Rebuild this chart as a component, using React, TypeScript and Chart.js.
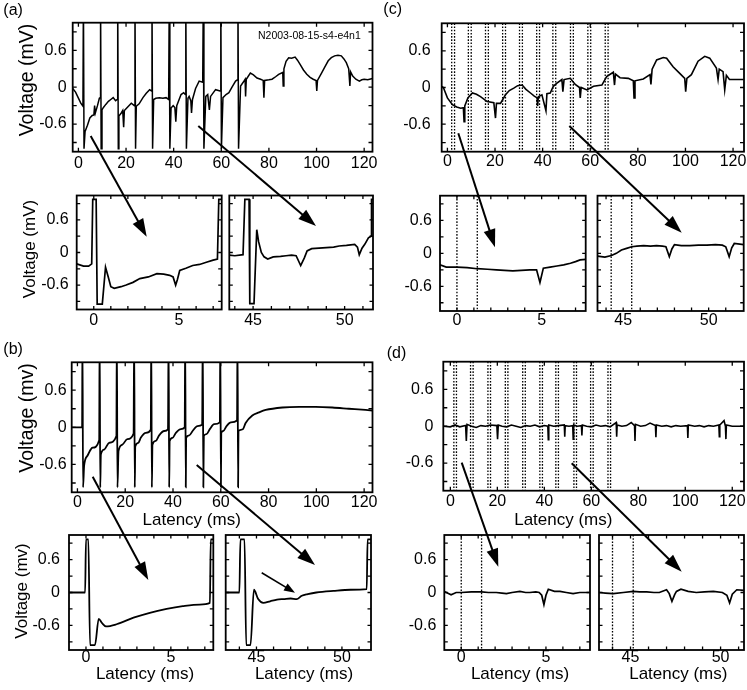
import React, { useEffect, useRef } from "react";
import { Chart, registerables } from "chart.js";
Chart.register(...registerables);

const FONT = "'Liberation Sans', Arial, Helvetica, sans-serif";

// ---------------- tick values ----------------
const MAIN_X_TICKS = [0, 20, 40, 60, 80, 100, 120];
const Y_TICK_LABELS = [-0.6, 0, 0.6];
const Y_TICK_MARKS = [-0.9, -0.6, -0.3, 0, 0.3, 0.6, 0.9];
const INSET_L_LABELS = [0, 5];
const INSET_L_MARKS = [0, 1, 2, 3, 4, 5, 6, 7];
const INSET_R_LABELS = [45, 50];
const INSET_R_MARKS = [44, 45, 46, 47, 48, 49, 50, 51];

// ---------------- series (latency ms, voltage mV) ----------------
const A_MAIN: [number, number][] = [
  [-2.4, -0.02], [-1.2, -0.08], [-0.1, -0.17], [1.0, -0.26], [1.9, -0.31],
  [2.1, 1.5], [2.35, -1.0], [2.8, -0.72], [3.8, -0.62], [4.8, -0.5], [5.8, -0.46], [6.5, -0.45], [6.8, -0.3], [7.1, -0.42], [8.0, -0.3], [8.8, -0.18], [9.1, -0.17],
  [9.3, 1.5], [9.55, -1.0], [9.9, -0.37], [10.5, -0.33], [11.5, -0.28], [12.6, -0.23], [13.6, -0.2], [14.6, -0.17], [15.6, -0.22], [16.3, -0.2],
  [16.5, 1.5], [16.75, -1.0], [17.0, -0.47], [18.0, -0.42], [18.6, -0.38], [19.0, -0.65], [19.3, -0.38], [20.5, -0.33], [22.2, -0.26], [23.5, -0.3],
  [23.75, 1.5], [24.0, -1.0], [24.3, -0.31], [25.5, -0.27], [27.1, -0.17], [28.5, -0.1], [29.9, -0.04], [30.7, -0.06],
  [30.9, 1.5], [31.15, -1.0], [31.6, -0.2], [32.5, -0.18], [34.0, -0.17], [35.5, -0.18], [36.8, -0.17], [37.9, -0.2],
  [38.15, 1.5], [38.4, -1.0], [38.9, -0.34], [39.8, -0.3], [40.5, -0.33], [40.9, -0.56], [41.3, -0.3], [43.1, -0.12], [44.2, -0.09], [44.9, -0.12],
  [45.1, 1.5], [45.35, -1.0], [46.0, -0.18], [46.5, -0.15], [47.2, -0.22], [47.5, -0.42], [47.9, -0.2], [49.2, -0.02], [50.7, 0.1], [52.2, 0.08],
  [52.45, 1.5], [52.7, -1.0], [53.5, -0.15], [54.3, -0.12], [55.0, -0.37], [55.5, -0.15], [57.6, -0.04], [59.5, -0.06],
  [59.8, 1.5], [60.05, -1.0], [60.7, -0.17], [62.0, -0.12], [63.2, -0.09], [64.5, 0.0], [66.0, 0.1], [66.8, 0.12],
  [67.0, 1.5], [67.25, -1.0], [68.1, 0.02], [69.2, 0.08], [70.0, 0.13], [70.2, -0.15], [70.5, 0.13], [72.2, 0.23], [73.5, 0.2], [75.0, 0.15], [76.5, 0.13], [77.6, 0.11], [77.9, -0.17], [78.2, 0.11], [80.0, 0.12], [81.3, 0.13], [82.8, 0.17], [84.1, 0.21], [85.8, 0.24], [86.0, 0.02], [86.3, 0.3], [87.2, 0.42], [88.3, 0.48], [89.5, 0.47], [91.0, 0.49], [92.0, 0.44], [93.1, 0.37], [94.5, 0.28], [95.9, 0.21], [97.3, 0.16], [98.6, 0.13], [99.8, 0.11], [100.1, -0.06], [100.4, 0.11], [102.1, 0.23], [103.5, 0.33], [104.9, 0.43], [106.2, 0.48], [107.6, 0.51], [109.0, 0.52], [110.4, 0.51], [111.5, 0.46], [112.5, 0.4], [113.5, 0.3], [114.0, 0.02], [114.3, 0.25], [115.2, 0.18], [116.5, 0.13], [118.0, 0.1], [119.0, 0.12], [120.0, 0.13], [121.5, 0.12], [123.5, 0.14],
];

const A_INS_L: [number, number][] = [
  [-1, -0.21], [-0.6, -0.25], [-0.3, -0.25], [-0.12, -0.21], [-0.06, 0.98], [0.14, 0.98], [0.2, -0.95], [0.5, -0.95], [0.69, -0.27], [0.85, -0.45], [1.0, -0.63], [1.2, -0.66], [1.6, -0.63], [1.9, -0.6], [2.3, -0.55], [2.7, -0.48], [3.2, -0.45], [3.7, -0.39], [4.1, -0.4], [4.45, -0.42], [4.65, -0.45], [4.8, -0.6], [4.9, -0.5], [5.04, -0.33], [5.4, -0.29], [5.8, -0.24], [6.2, -0.22], [6.6, -0.18], [7.0, -0.14], [7.25, -0.12], [7.33, 0.98], [7.6, 0.98],
];

const A_INS_R: [number, number][] = [
  [43.7, -0.05], [44.0, -0.06], [44.45, -0.04], [44.55, 0.98], [44.78, 0.98], [44.82, -0.94], [45.05, -0.94], [45.2, 0.42], [45.3, 0.2], [45.45, 0.0], [45.6, -0.08], [45.8, -0.12], [46.1, -0.08], [46.5, -0.07], [46.8, -0.06], [47.1, -0.05], [47.35, -0.06], [47.6, -0.24], [47.8, -0.1], [47.95, 0.03], [48.2, 0.07], [48.6, 0.08], [49.0, 0.09], [49.4, 0.1], [49.7, 0.12], [50.1, 0.13], [50.55, 0.15], [50.7, 0.1], [50.8, -0.04], [50.95, 0.08], [51.1, 0.15], [51.3, 0.27], [51.45, 0.3], [51.47, 0.98], [51.6, 0.98],
];

const B_MAIN: [number, number][] = [
  [-2.4, 0], [1.95, 0], [2.1, 1.5], [2.35, -0.97], [2.8, -0.62], [4.2, -0.46], [6.3, -0.33], [9.1, -0.21],
  [9.3, 1.5], [9.55, -0.97], [9.8, -0.44], [11.2, -0.36], [13.3, -0.25], [16.3, -0.14],
  [16.5, 1.5], [16.75, -0.97], [17.2, -0.38], [18.8, -0.28], [20.9, -0.19], [23.5, -0.1],
  [23.75, 1.5], [24.0, -0.97], [24.2, -0.31], [25.5, -0.25], [26.5, -0.17], [28.6, -0.09], [30.7, -0.04],
  [30.9, 1.5], [31.15, -0.97], [31.4, -0.28], [32.8, -0.22], [34.2, -0.13], [36.3, -0.06], [37.9, -0.03],
  [38.15, 1.5], [38.4, -0.97], [38.6, -0.22], [39.8, -0.17], [41.2, -0.09], [43.3, -0.03], [44.9, 0.0],
  [45.1, 1.5], [45.35, -0.97], [45.5, -0.17], [46.8, -0.13], [48.2, -0.06], [50.2, 0.02], [52.2, 0.04],
  [52.45, 1.5], [52.7, -0.97], [52.9, -0.14], [54.0, -0.11], [55.4, -0.03], [57.2, 0.05], [59.6, 0.08],
  [59.8, 1.5], [60.05, -0.97], [60.2, -0.09], [61.0, -0.06], [62.4, 0.02], [64.2, 0.08], [66.8, 0.11],
  [67.0, 1.5], [67.25, -0.97], [67.4, -0.06], [68.4, -0.04], [69.3, -0.03], [70.4, 0.07], [73.2, 0.19], [76.0, 0.24], [78.8, 0.28], [85.8, 0.32], [92.8, 0.33], [99.7, 0.33], [106.7, 0.32], [113.6, 0.3], [120.6, 0.28], [123.5, 0.27],
];

const B_INS_L: [number, number][] = [
  [-1, 0], [-0.05, 0], [0, 0.97], [0.14, 0.97], [0.24, -0.96], [0.53, -0.96], [0.75, -0.48], [0.95, -0.56], [1.18, -0.62], [1.8, -0.58], [2.8, -0.46], [3.76, -0.37], [4.75, -0.3], [5.7, -0.25], [6.7, -0.22], [7.3, -0.19], [7.35, 0.97], [7.6, 0.97],
];

const B_INS_R: [number, number][] = [
  [43.2, 0], [44.0, 0], [44.06, 0.97], [44.3, 0.97], [44.4, -0.96], [44.65, -0.96], [44.85, 0.05], [45.1, -0.12], [45.4, -0.19], [45.8, -0.16], [46.2, -0.13], [46.6, -0.12], [47.0, -0.11], [47.35, -0.12], [47.65, -0.06], [48.0, -0.03], [48.5, 0.0], [49.5, 0.03], [50.5, 0.05], [51.45, 0.06], [51.5, 0.97], [51.7, 0.97],
];

const C_MAIN: [number, number][] = [
  [-2.4, 0.02], [-1.7, 0.0], [0, -0.17], [2.1, -0.28], [3.9, -0.32], [5.6, -0.34], [6.7, -0.33], [7.0, -0.56], [7.3, -0.3], [8.6, -0.17], [10.5, -0.09], [12.2, -0.11], [13.9, -0.15], [16.7, -0.23], [19.5, -0.25], [20.2, -0.5], [20.6, -0.26], [22.3, -0.26], [24.4, -0.12], [26.0, -0.05], [27.9, -0.01], [29.5, 0.03], [31.4, 0.04], [33.0, -0.03], [34.9, -0.09], [36.5, -0.14], [37.7, -0.17], [37.9, -0.3], [38.2, -0.15], [39.7, -0.12], [41.4, -0.38], [41.8, -0.1], [43.2, -0.09], [44.5, 0.02], [46.0, 0.07], [48.1, 0.13], [48.5, -0.07], [49.0, 0.13], [51.6, 0.15], [53.7, 0.05], [55.5, 0.0], [55.8, -0.17], [56.2, 0.0], [58.6, -0.04], [61.4, 0.02], [64.9, 0.04], [66.9, 0.18], [69.7, 0.25], [70.2, 0.04], [70.6, 0.22], [72.5, 0.16], [76.0, 0.15], [78.1, 0.11], [78.4, -0.17], [78.8, 0.11], [82.3, 0.14], [85.1, 0.21], [85.5, 0.05], [86.0, 0.3], [87.9, 0.45], [90.7, 0.49], [92.1, 0.48], [94.8, 0.34], [97.6, 0.23], [99.7, 0.15], [100.1, -0.07], [100.6, 0.15], [102.5, 0.21], [105.3, 0.43], [108.1, 0.51], [110.2, 0.48], [113.0, 0.32], [113.7, 0.13], [114.2, 0.3], [115.8, 0.26], [116.5, -0.04], [117.2, 0.2], [118.5, 0.13], [124.5, 0.13],
];

const C_INS_L: [number, number][] = [
  [-1, -0.21], [-0.63, -0.25], [0, -0.25], [0.6, -0.26], [1.2, -0.28], [1.8, -0.29], [2.33, -0.3], [2.8, -0.31], [3.3, -0.32], [3.8, -0.31], [4.3, -0.3], [4.7, -0.3], [4.9, -0.53], [5.1, -0.27], [5.5, -0.25], [5.9, -0.23], [6.3, -0.21], [6.7, -0.18], [7.0, -0.15], [7.27, -0.12], [7.6, -0.11],
];

const C_INS_R: [number, number][] = [
  [43.5, -0.05], [43.93, -0.07], [44.32, -0.04], [44.6, 0.0], [44.9, 0.06], [45.2, 0.09], [45.5, 0.12], [45.8, 0.13], [46.2, 0.14], [46.6, 0.13], [46.95, 0.14], [47.3, 0.13], [47.5, 0.12], [47.7, -0.06], [47.85, 0.08], [48.0, 0.16], [48.4, 0.14], [48.9, 0.14], [49.4, 0.15], [49.9, 0.15], [50.4, 0.16], [50.8, 0.15], [51.0, 0.12], [51.2, -0.06], [51.35, 0.1], [51.5, 0.18], [52.05, 0.16],
];

const D_MAIN: [number, number][] = [
  [-3, 0.0], [0, -0.01], [2, 0.02], [4, -0.01], [6.5, 0.01], [6.8, -0.24], [7.1, 0.03], [9, 0], [11, -0.02], [13, 0.01], [15, 0.0], [17, 0.02], [19.8, 0.01], [20.1, -0.21], [20.4, 0.02], [22, 0], [24, -0.01], [26, 0.02], [28, 0], [30, -0.02], [32, 0.01], [34, 0], [36, 0.02], [38, -0.01], [40, 0.01], [41.5, 0.0], [41.7, -0.22], [41.9, 0.02], [44, 0], [46, 0.01], [48.5, 0.02], [48.7, -0.17], [48.9, 0.01], [50.5, 0], [52.1, 0.01], [52.3, -0.21], [52.5, 0.02], [54, 0], [55.8, 0.01], [56, -0.15], [56.2, 0.02], [58, 0], [60, -0.01], [62, 0.02], [64, 0], [66, 0.01], [68, -0.01], [70.6, 0.06], [70.8, -0.17], [71, 0.02], [73, 0], [75, 0.01], [77, 0.06], [78.4, 0.01], [78.6, -0.24], [78.8, 0.03], [81, 0], [83, 0.01], [85, 0.05], [87.3, 0.01], [87.5, -0.18], [87.7, 0.02], [90, 0], [92, 0.01], [94, -0.01], [96, 0.01], [98, 0], [100.9, 0.01], [101.1, -0.19], [101.3, 0.02], [104, 0], [106, 0.01], [108, -0.01], [110, 0.01], [112, 0], [114.3, 0.02], [114.5, -0.17], [114.7, 0.02], [116.5, 0.09], [117.1, 0.0], [117.3, -0.21], [117.5, 0.02], [120, 0], [125, 0.0],
];

const D_INS_L: [number, number][] = [
  [-1, 0.02], [-0.6, -0.04], [-0.3, 0.0], [0, 0.0], [0.6, 0.01], [1.2, 0.01], [1.6, 0.0], [2.07, 0.0], [2.4, -0.01], [2.67, -0.02], [3.0, 0.0], [3.46, 0.02], [3.8, 0.0], [4.05, 0.0], [4.4, 0.01], [4.6, 0.0], [4.75, -0.05], [4.88, -0.22], [5.0, -0.05], [5.14, 0.06], [5.5, 0.02], [5.83, 0.02], [6.2, 0.0], [6.6, -0.02], [7.0, 0.0], [7.3, 0.0], [7.6, 0.0],
];

const D_INS_R: [number, number][] = [
  [43.25, 0.0], [43.6, -0.01], [44.04, -0.02], [44.6, 0.0], [45.15, 0.02], [45.5, 0.01], [45.9, 0.01], [46.3, 0.0], [46.6, 0.0], [47.0, 0.05], [47.15, -0.02], [47.3, -0.16], [47.45, -0.04], [47.55, 0.02], [47.8, 0.06], [48.2, 0.02], [48.65, 0.0], [49.1, 0.01], [49.6, 0.02], [50.1, 0.0], [50.35, -0.05], [50.5, -0.19], [50.65, -0.03], [50.9, 0.05], [51.3, 0.04],
];

// spike-window markers (dotted lines), ms
const C_MAIN_MARKS = [1.8, 3.0, 8.8, 10.0, 16.0, 17.2, 23.2, 24.4, 30.3, 31.5, 37.5, 38.7, 44.3, 45.5, 51.7, 52.9, 59.0, 60.2, 66.3, 67.5];
const D_MAIN_MARKS = [1.5, 2.6, 8.6, 9.7, 16.0, 17.1, 23.4, 24.5, 30.8, 31.9, 38.1, 39.2, 44.9, 46.0, 52.6, 53.7, 59.7, 60.8, 67.1, 68.2];
const INS_L_MARKS = [0, 1.2];
const C_INS_R_MARKS = [44.3, 45.5];
const D_INS_R_MARKS = [44.0, 45.15];

// ---------------- layout ----------------
type Box = { x: number; y: number; w: number; h: number };
type Area = { l: number; t: number; r: number; b: number };
type PanelCfg = {
  box: Box; area: Area; xMin: number; xMax: number;
  xLabels: number[]; xMarks: number[]; yLabels: boolean;
  yPad: number; xPad: number; data: [number, number][];
  marks?: number[]; lw: number; smooth?: boolean; tick: number;
};

const Y_MIN = -1.05, Y_MAX = 1.05;

const PANELS: PanelCfg[] = [
  { box: { x: 0, y: 0, w: 380, h: 176 }, area: { l: 72.7, t: 22.7, r: 372.5, b: 151.7 }, xMin: -2.4, xMax: 123.5, xLabels: MAIN_X_TICKS, xMarks: MAIN_X_TICKS, yLabels: true, yPad: 6, xPad: 2, data: A_MAIN, lw: 1.5, tick: 4 },
  { box: { x: 0, y: 180, w: 224, h: 150 }, area: { l: 76.7, t: 195.5, r: 221.7, b: 309.5 }, xMin: -1, xMax: 7.5, xLabels: INSET_L_LABELS, xMarks: INSET_L_MARKS, yLabels: true, yPad: 8, xPad: 1, data: A_INS_L, lw: 1.7, tick: 3.5 },
  { box: { x: 224, y: 180, w: 156, h: 150 }, area: { l: 229.3, t: 195.5, r: 373, b: 309.5 }, xMin: 43.7, xMax: 51.55, xLabels: INSET_R_LABELS, xMarks: INSET_R_MARKS, yLabels: false, yPad: 8, xPad: 1, data: A_INS_R, lw: 1.7, tick: 3.5 },
  { box: { x: 0, y: 335, w: 380, h: 180 }, area: { l: 71.7, t: 362.3, r: 372.5, b: 492.3 }, xMin: -2.4, xMax: 123.5, xLabels: MAIN_X_TICKS, xMarks: MAIN_X_TICKS, yLabels: true, yPad: 5, xPad: 1, data: B_MAIN, lw: 1.8, smooth: true, tick: 4 },
  { box: { x: 0, y: 520, w: 219, h: 170 }, area: { l: 69, t: 535, r: 213.3, b: 650 }, xMin: -1, xMax: 7.5, xLabels: INSET_L_LABELS, xMarks: INSET_L_MARKS, yLabels: true, yPad: 9, xPad: -2, data: B_INS_L, lw: 1.8, smooth: true, tick: 3.5 },
  { box: { x: 219, y: 520, w: 161, h: 170 }, area: { l: 225.7, t: 535, r: 371, b: 650 }, xMin: 43.2, xMax: 51.7, xLabels: INSET_R_LABELS, xMarks: INSET_R_MARKS, yLabels: false, yPad: 9, xPad: -2, data: B_INS_R, lw: 1.8, smooth: true, tick: 3.5 },
  { box: { x: 380, y: 0, w: 367, h: 176 }, area: { l: 441.7, t: 23.3, r: 744, b: 151.7 }, xMin: -2.4, xMax: 124.6, xLabels: MAIN_X_TICKS, xMarks: MAIN_X_TICKS, yLabels: true, yPad: 11, xPad: 0, data: C_MAIN, marks: C_MAIN_MARKS, lw: 1.6, tick: 4 },
  { box: { x: 380, y: 180, w: 211, h: 150 }, area: { l: 440, t: 195.7, r: 585.7, b: 311 }, xMin: -1, xMax: 7.6, xLabels: INSET_L_LABELS, xMarks: INSET_L_MARKS, yLabels: true, yPad: 8, xPad: 0, data: C_INS_L, marks: INS_L_MARKS, lw: 1.7, tick: 3.5 },
  { box: { x: 591, y: 180, w: 156, h: 150 }, area: { l: 597.5, t: 195.7, r: 743.7, b: 311 }, xMin: 43.5, xMax: 52.05, xLabels: INSET_R_LABELS, xMarks: INSET_R_MARKS, yLabels: false, yPad: 8, xPad: 0, data: C_INS_R, marks: C_INS_R_MARKS, lw: 1.7, tick: 3.5 },
  { box: { x: 380, y: 335, w: 367, h: 180 }, area: { l: 443.3, t: 361.7, r: 744, b: 490.7 }, xMin: -3, xMax: 125, xLabels: MAIN_X_TICKS, xMarks: MAIN_X_TICKS, yLabels: true, yPad: 10, xPad: 1, data: D_MAIN, marks: D_MAIN_MARKS, lw: 1.6, tick: 4 },
  { box: { x: 380, y: 520, w: 215, h: 170 }, area: { l: 444.3, t: 535, r: 590, b: 650 }, xMin: -1, xMax: 7.6, xLabels: INSET_L_LABELS, xMarks: INSET_L_MARKS, yLabels: true, yPad: 8, xPad: -2, data: D_INS_L, marks: INS_L_MARKS, lw: 1.7, tick: 3.5 },
  { box: { x: 595, y: 520, w: 152, h: 170 }, area: { l: 599, t: 535, r: 744, b: 650 }, xMin: 43.25, xMax: 51.3, xLabels: INSET_R_LABELS, xMarks: INSET_R_MARKS, yLabels: false, yPad: 8, xPad: -2, data: D_INS_R, marks: D_INS_R_MARKS, lw: 1.7, tick: 3.5 },
];

// annotation arrows in page pixels: [x1, y1, x2, y2, headLength, headHalfWidth]
const ARROWS: number[][] = [
  [90.7, 136, 146.7, 236.7, 18, 6],
  [198.3, 126, 316, 226, 18, 6],
  [92.7, 476.7, 148.3, 580, 18, 6],
  [196.7, 465, 315, 565, 18, 6],
  [261.7, 572.7, 295, 592.7, 11, 4],
  [458.3, 133.3, 495, 247.3, 18, 6],
  [569.3, 126, 681.7, 232.7, 18, 6],
  [461.7, 462.7, 498.3, 566.7, 18, 6],
  [571.7, 463.3, 681.7, 571.7, 18, 6],
];

type TextItem = { text: string; x: number; y: number; size: number; rot?: boolean; center?: boolean };
const TEXTS: TextItem[] = [
  { text: "(a)", x: 3.3, y: 2.1, size: 16 },
  { text: "(b)", x: 3.3, y: 341.4, size: 16 },
  { text: "(c)", x: 383.3, y: 1.4, size: 16 },
  { text: "(d)", x: 386.7, y: 344.8, size: 16 },
  { text: "N2003-08-15-s4-e4n1", x: 258, y: 30.3, size: 10.5 },
  { text: "Voltage (mV)", x: 26.9, y: 80, size: 19.5, rot: true },
  { text: "Voltage (mV)", x: 29.2, y: 249, size: 17, rot: true },
  { text: "Voltage (mv)", x: 26.5, y: 418.3, size: 19.5, rot: true },
  { text: "Voltage (mv)", x: 20.9, y: 591, size: 17, rot: true },
  { text: "Latency (ms)", x: 191.7, y: 510.5, size: 17, center: true },
  { text: "Latency (ms)", x: 563.3, y: 510.5, size: 17, center: true },
  { text: "Latency (ms)", x: 145, y: 664.5, size: 17, center: true },
  { text: "Latency (ms)", x: 304, y: 664.5, size: 17, center: true },
  { text: "Latency (ms)", x: 520, y: 664.5, size: 17, center: true },
  { text: "Latency (ms)", x: 678.3, y: 664.5, size: 17, center: true },
];

function Panel({ cfg }: { cfg: PanelCfg }) {
  const ref = useRef<HTMLCanvasElement>(null);
  useEffect(() => {
    const c = cfg;
    const canvas = ref.current!;
    const L = c.area.l - c.box.x;
    const T = c.area.t - c.box.y;
    const R = c.area.r - c.box.x;
    const B = c.area.b - c.box.y;
    const plugin = {
      id: "frameTicks",
      beforeDatasetsDraw(chart: any) {
        if (!c.marks) return;
        const ctx = chart.ctx;
        const a = chart.chartArea;
        const xs = chart.scales.x;
        ctx.save();
        ctx.strokeStyle = "#000";
        ctx.lineWidth = 1.3;
        ctx.setLineDash([1.6, 1.6]);
        for (const m of c.marks) {
          const px = xs.getPixelForValue(m);
          ctx.beginPath();
          ctx.moveTo(px, a.top);
          ctx.lineTo(px, a.bottom);
          ctx.stroke();
        }
        ctx.restore();
      },
      afterDatasetsDraw(chart: any) {
        const ctx = chart.ctx;
        const a = chart.chartArea;
        const xs = chart.scales.x;
        const ys = chart.scales.y;
        const tl = c.tick;
        ctx.save();
        ctx.strokeStyle = "#000";
        ctx.lineWidth = 1.3;
        ctx.beginPath();
        for (const v of c.xMarks) {
          const px = xs.getPixelForValue(v);
          ctx.moveTo(px, a.bottom);
          ctx.lineTo(px, a.bottom - tl);
          ctx.moveTo(px, a.top);
          ctx.lineTo(px, a.top + tl);
        }
        for (const v of Y_TICK_MARKS) {
          const py = ys.getPixelForValue(v);
          ctx.moveTo(a.left, py);
          ctx.lineTo(a.left + tl, py);
          ctx.moveTo(a.right, py);
          ctx.lineTo(a.right - tl, py);
        }
        ctx.stroke();
        ctx.lineWidth = 1.8;
        ctx.strokeRect(a.left, a.top, a.right - a.left, a.bottom - a.top);
        ctx.restore();
      },
    };
    const chart = new Chart(canvas, {
      type: "line",
      data: {
        datasets: [
          {
            data: c.data.map(([x, y]) => ({ x, y })),
            borderColor: "#000",
            borderWidth: c.lw,
            pointRadius: 0,
            tension: 0,
            cubicInterpolationMode: c.smooth ? "monotone" : "default",
            fill: false,
            clip: 0,
          } as any,
        ],
      },
      options: {
        animation: false,
        responsive: false,
        maintainAspectRatio: false,
        events: [],
        layout: { padding: { left: 0, top: T, right: c.box.w - R, bottom: 0 } },
        plugins: { legend: { display: false }, tooltip: { enabled: false }, title: { display: false } },
        scales: {
          x: {
            type: "linear",
            min: c.xMin,
            max: c.xMax,
            grid: { display: false, drawTicks: false },
            border: { display: false },
            ticks: {
              font: { family: FONT, size: 16 },
              color: "#000",
              padding: c.xPad,
              autoSkip: false,
              maxRotation: 0,
              minRotation: 0,
              callback: (v: any) => String(v),
            },
            afterBuildTicks: (s: any) => {
              s.ticks = c.xLabels.map((v) => ({ value: v }));
            },
            afterFit: (s: any) => {
              s.height = c.box.h - B;
              s.paddingLeft = 0;
              s.paddingRight = 0;
            },
          },
          y: {
            type: "linear",
            min: Y_MIN,
            max: Y_MAX,
            grid: { display: false, drawTicks: false },
            border: { display: false },
            ticks: {
              display: c.yLabels,
              font: { family: FONT, size: 16 },
              color: "#000",
              padding: c.yPad,
              callback: (v: any) => String(v),
            },
            afterBuildTicks: (s: any) => {
              s.ticks = Y_TICK_LABELS.map((v) => ({ value: v }));
            },
            afterFit: (s: any) => {
              s.width = L;
              s.paddingTop = 0;
              s.paddingBottom = 0;
            },
          },
        },
      } as any,
      plugins: [plugin],
    });
    return () => chart.destroy();
  }, [cfg]);
  return (
    <canvas
      ref={ref}
      width={cfg.box.w}
      height={cfg.box.h}
      style={{ position: "absolute", left: cfg.box.x, top: cfg.box.y, width: cfg.box.w, height: cfg.box.h }}
    />
  );
}

function Arrows() {
  return (
    <svg width={747} height={690} style={{ position: "absolute", left: 0, top: 0, zIndex: 2, pointerEvents: "none" }}>
      {ARROWS.map(([x1, y1, x2, y2, hl, hw], i) => {
        const dx = x2 - x1, dy = y2 - y1;
        const len = Math.hypot(dx, dy);
        const ux = dx / len, uy = dy / len;
        const bx = x2 - ux * hl, by = y2 - uy * hl;
        const px = -uy, py = ux;
        const pts = `${x2},${y2} ${bx + px * hw},${by + py * hw} ${bx - px * hw},${by - py * hw}`;
        return (
          <g key={i}>
            <line x1={x1} y1={y1} x2={bx + ux * 2} y2={by + uy * 2} stroke="#000" strokeWidth={hl > 12 ? 2 : 1.6} />
            <polygon points={pts} fill="#000" />
          </g>
        );
      })}
    </svg>
  );
}

export default function App() {
  return (
    <div style={{ position: "absolute", left: 0, top: 0, width: 747, height: 690, overflow: "hidden", background: "#fff" }}>
      {PANELS.map((p, i) => (
        <Panel key={i} cfg={p} />
      ))}
      <Arrows />
      {TEXTS.map((t, i) => (
        <div
          key={"t" + i}
          style={{
            position: "absolute",
            left: t.x,
            top: t.y,
            fontFamily: FONT,
            fontSize: t.size,
            lineHeight: 1,
            whiteSpace: "nowrap",
            color: "#000",
            zIndex: 3,
            transform: t.rot ? "translate(-50%, -50%) rotate(-90deg)" : t.center ? "translateX(-50%)" : undefined,
          }}
        >
          {t.text}
        </div>
      ))}
    </div>
  );
}
